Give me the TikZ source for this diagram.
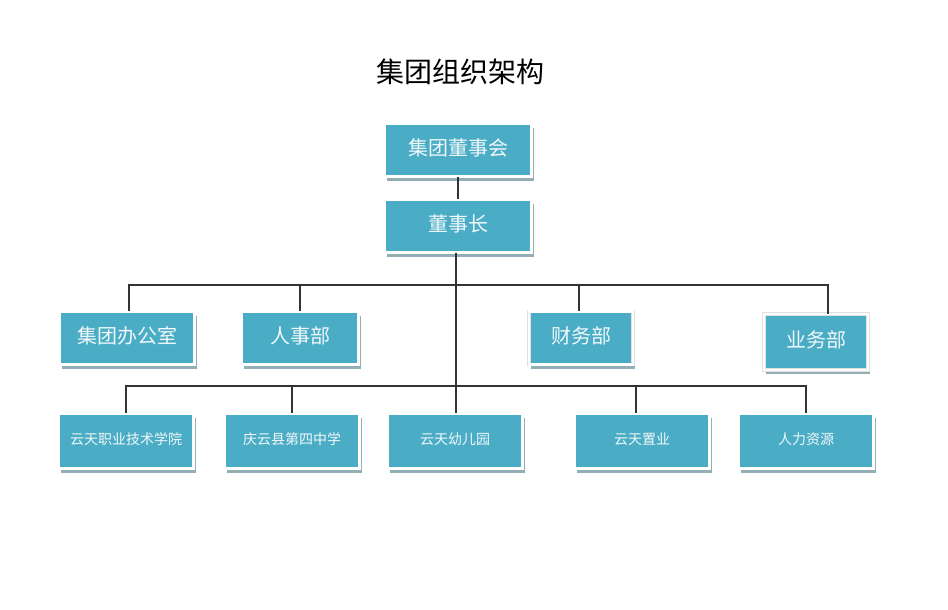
\documentclass[tikz,border=0pt]{standalone}
\usepackage{xcolor}
\usepackage{fontspec}
\usepackage{tikz}
\usetikzlibrary{shadows}
\newfontfamily\cjk{Noto Sans CJK SC}
\definecolor{boxteal}{HTML}{4BACC6}
\definecolor{boxshade}{HTML}{93AEB5}
\definecolor{linkgray}{HTML}{333333}
\tikzset{
    unit/.style={rectangle, draw=black!12, line width=0.4pt, double=white,
        double distance=2.4pt, fill=boxteal,
        text=white!92!boxteal, font=\cjk\fontsize{20}{24}\selectfont,
        minimum height=53pt, inner sep=0pt, text depth=6pt,
        drop shadow={shadow xshift=2pt, shadow yshift=-4pt, fill=boxshade, opacity=1}},
    subunit/.style={unit, minimum width=135pt, minimum height=55pt,
        text depth=5pt, font=\cjk\fontsize{14}{17}\selectfont},
    link/.style={draw=linkgray, line width=1.1pt}
}

\begin{document}
\begin{tikzpicture}[x=1pt, y=-1pt]
    \useasboundingbox[fill=white] (0,0) rectangle (948,610);
    \node[font=\cjk\fontsize{28}{32}\selectfont] at (460,72) (title) {集团组织架构};

    \node[unit, minimum width=147pt] at (458,150) (board) {集团董事会};
    \node[unit, minimum width=147pt] at (458,226) (chair) {董事长};

    \node[unit, minimum width=135pt] at (127,338) (office) {集团办公室};
    \node[unit, minimum width=117pt] at (300,338) (hr) {人事部};
    \node[unit, minimum width=104pt] at (581,338) (fin) {财务部};
    \node[unit, minimum width=104pt, minimum height=56pt] at (816,342) (biz) {业务部};

    \node[subunit] at (126,441) (college) {云天职业技术学院};
    \node[subunit] at (292,441) (school) {庆云县第四中学};
    \node[subunit] at (455,441) (kinder) {云天幼儿园};
    \node[subunit] at (642,441) (estate) {云天置业};
    \node[subunit] at (806,441) (hrsrc) {人力资源};

    \coordinate (top) at (456,285);
    \coordinate (low) at (456,386);

    \draw[link] (board) -- (chair);
    \draw[link] (chair.south -| top) -- (kinder.north -| top);
    \draw[link] (office.north -| 129,0) |- (top) -| ([xshift=12pt]biz.north);
    \draw[link] (hr.north) -- (hr.north |- top);
    \draw[link] ([xshift=-2pt]fin.north) -- ([xshift=-2pt]fin.north |- top);
    \draw[link] (college.north) |- (low) -| (hrsrc.north);
    \draw[link] (school.north) -- (school.north |- low);
    \draw[link] ([xshift=-6pt]estate.north) -- ([xshift=-6pt]estate.north |- low);
\end{tikzpicture}
\end{document}
